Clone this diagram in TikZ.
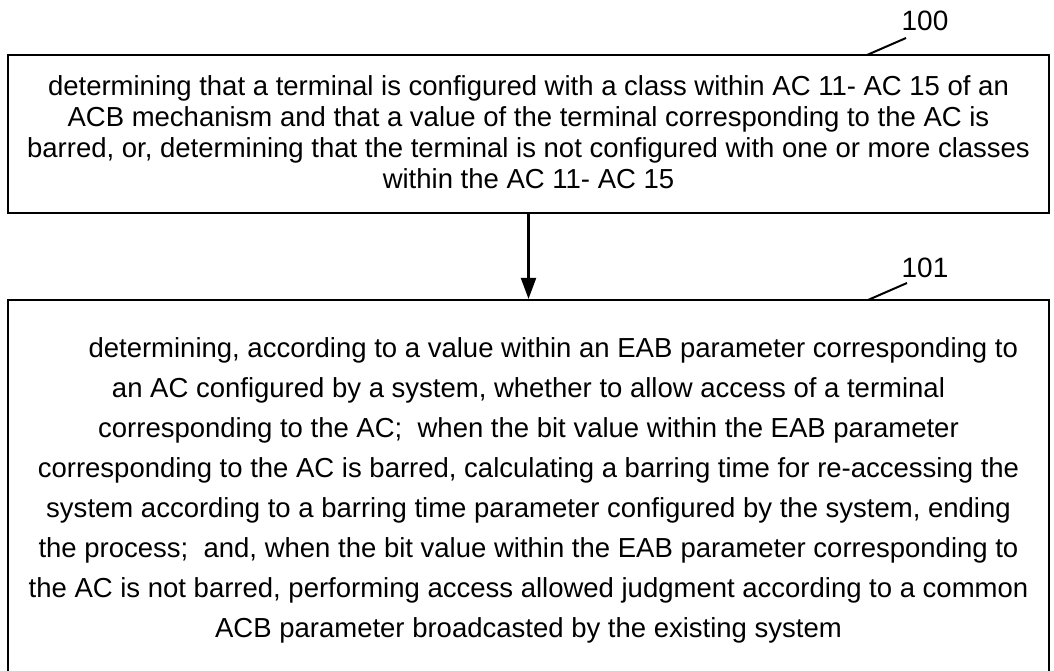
\documentclass[tikz,border=0pt]{standalone}
\usepackage{fontspec}
\setmainfont{Liberation Sans}
\usetikzlibrary{arrows.meta}
\begin{document}
\begin{tikzpicture}[x=1pt,y=1pt,
  stepbox/.style={draw, line width=2.2pt, inner sep=0pt},
  bodytext/.style={align=center, inner sep=0pt, font=\fontsize{27.5}{31}\selectfont},
  bodytextb/.style={align=center, inner sep=0pt, font=\fontsize{27.5}{40}\selectfont},
  reflabel/.style={inner sep=0pt, font=\fontsize{28}{30}\selectfont},
  leader/.style={line width=2pt},
  flow/.style={line width=2.2pt, -{Triangle[length=21pt,width=15pt]}}]
\useasboundingbox (0,0) rectangle (1054,670);
% boxes
\node[stepbox, minimum width=1041pt, minimum height=158pt] (b1) at (528.5,536) {};
\node[stepbox, minimum width=1041pt, minimum height=390pt] (b2) at (528.5,175) {};
% texts
\node[bodytext, anchor=center] (t1) at (528.5,538) {determining that a terminal is configured with a class within AC 11- AC 15 of an\\
ACB mechanism and that a value of the terminal corresponding to the AC is\\
barred, or, determining that the terminal is not configured with one or more classes\\
within the AC 11- AC 15};
\node[bodytextb, anchor=north] (t2) at (528.5,333) {\hspace*{1.8em}determining, according to a value within an EAB parameter corresponding to\\
an AC configured by a system, whether to allow access of a terminal\\
corresponding to the AC;\ \ when the bit value within the EAB parameter\\
corresponding to the AC is barred, calculating a barring time for re-accessing the\\
system according to a barring time parameter configured by the system, ending\\
the process;\ \ and, when the bit value within the EAB parameter corresponding to\\
the AC is not barred, performing access allowed judgment according to a common\\
ACB parameter broadcasted by the existing system};
% reference labels
\node[reflabel] (n100) at (925,649) {100};
\node[reflabel] (n101) at (925,402.5) {101};
\coordinate (c100a) at (867,615);
\coordinate (c100b) at (906,632);
\coordinate (c101a) at (868,370);
\coordinate (c101b) at (907,387);
\draw[leader] (c100a) -- (c100b);
\draw[leader] (c101a) -- (c101b);
% connector
\draw[flow] (b1.south) -- (b2.north);
\end{tikzpicture}
\end{document}
